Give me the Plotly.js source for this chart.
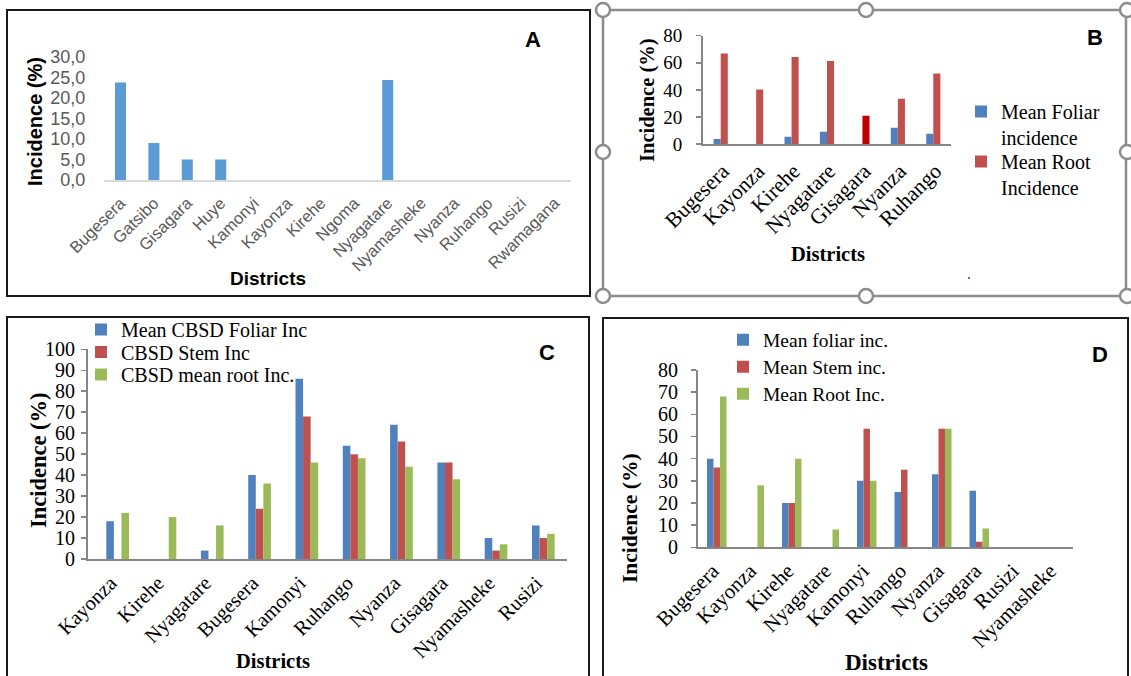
<!DOCTYPE html>
<html><head><meta charset="utf-8">
<script src="https://cdn.plot.ly/plotly-3.0.1.min.js"></script>
<style>html,body{margin:0;padding:0;background:#fff;} #chart{width:1131px;height:676px;}</style>
</head><body><div id="chart"></div>
<script>
// ---------- Panel A ----------
const districtsA = ['Bugesera','Gatsibo','Gisagara','Huye','Kamonyi','Kayonza','Kirehe','Ngoma','Nyagatare','Nyamasheke','Nyanza','Ruhango','Rusizi','Rwamagana'];
const incidenceA = [23.8, 9.0, 5.0, 5.0, 0, 0, 0, 0, 24.4, 0, 0, 0, 0, 0];
// ---------- Panel B ----------
const districtsB = ['Bugesera','Kayonza','Kirehe','Nyagatare','Gisagara','Nyanza','Ruhango'];
const foliarB = [3.7, 0, 5.4, 9.1, 0, 12.0, 7.6];
const rootB = [66.8, 40.3, 64.3, 61.4, 20.9, 33.4, 52.1];
const seriesB = ['Mean Foliar<br>incidence', 'Mean Root<br>Incidence'];
// ---------- Panel C ----------
const districtsC = ['Kayonza','Kirehe','Nyagatare','Bugesera','Kamonyi','Ruhango','Nyanza','Gisagara','Nyamasheke','Rusizi'];
const foliarC = [18, 0, 4, 40, 86, 54, 64, 46, 10, 16];
const stemC = [0, 0, 0, 24, 68, 50, 56, 46, 4, 10];
const rootC = [22, 20, 16, 36, 46, 48, 44, 38, 7, 12];
const seriesC = ['Mean CBSD Foliar Inc', 'CBSD Stem Inc', 'CBSD mean root Inc.'];
// ---------- Panel D ----------
const districtsD = ['Bugesera','Kayonza','Kirehe','Nyagatare','Kamonyi','Ruhango','Nyanza','Gisagara','Rusizi','Nyamasheke'];
const foliarD = [40, 0, 20, 0, 30, 25, 33, 25.5, 0, 0];
const stemD = [36, 0, 20, 0, 53.5, 35, 53.5, 2.5, 0, 0];
const rootD = [68, 28, 40, 8, 30, 0, 53.5, 8.5, 0, 0];
const seriesD = ['Mean foliar inc.', 'Mean Stem inc.', 'Mean Root Inc.'];

const W = 1131, H = 676;
const X = p => p / W, Y = p => 1 - p / H;
const SANS = 'Liberation Sans, Arial, sans-serif';
const SERIF = 'Liberation Serif, Times New Roman, serif';
const BLUE = '#4F81BD', RED = '#C0504D', GREEN = '#9BBB59', BLUEA = '#5B9BD5';
const AXC = '#868686';

const bColorsRoot = districtsB.map(d => d === 'Gisagara' ? '#C00000' : RED);

const traces = [
  {type:'bar', x:districtsA, y:incidenceA, xaxis:'x', yaxis:'y', marker:{color:BLUEA},
   width:0.33, offset:-0.165, showlegend:false},
  {type:'bar', x:districtsB, y:foliarB, xaxis:'x2', yaxis:'y2', name:seriesB[0], marker:{color:BLUE},
   width:0.2, offset:-0.2, legend:'legend'},
  {type:'bar', x:districtsB, y:rootB, xaxis:'x2', yaxis:'y2', name:seriesB[1], marker:{color:bColorsRoot},
   width:0.2, offset:0, legend:'legend6'},
  {type:'bar', x:districtsC, y:foliarC, xaxis:'x3', yaxis:'y3', name:seriesC[0], marker:{color:BLUE},
   width:0.16, offset:-0.24, legend:'legend2'},
  {type:'bar', x:districtsC, y:stemC, xaxis:'x3', yaxis:'y3', name:seriesC[1], marker:{color:RED},
   width:0.16, offset:-0.08, legend:'legend4'},
  {type:'bar', x:districtsC, y:rootC, xaxis:'x3', yaxis:'y3', name:seriesC[2], marker:{color:GREEN},
   width:0.16, offset:0.08, legend:'legend5'},
  {type:'bar', x:districtsD, y:foliarD, xaxis:'x4', yaxis:'y4', name:seriesD[0], marker:{color:BLUE},
   width:0.173, offset:-0.26, legend:'legend3'},
  {type:'bar', x:districtsD, y:stemD, xaxis:'x4', yaxis:'y4', name:seriesD[1], marker:{color:RED},
   width:0.173, offset:-0.087, legend:'legend7'},
  {type:'bar', x:districtsD, y:rootD, xaxis:'x4', yaxis:'y4', name:seriesD[2], marker:{color:GREEN},
   width:0.173, offset:0.087, legend:'legend8'}
];
// B legend: Gisagara's darker red shouldn't drive the legend swatch
traces[2].marker.color = bColorsRoot;

function xcat(domain, range, anchor, font, standoff, shift, lineColor) {
  return {domain:domain, range:range, anchor:anchor, type:'category', showgrid:false, zeroline:false,
    showline:true, linecolor:lineColor, linewidth:2, ticks:'', tickangle:-45, tickfont:font,
    ticklabelstandoff:standoff, ticklabelshift:shift, fixedrange:true, automargin:false};
}
function yval(domain, range, dtick, anchor, font, opts) {
  return Object.assign({domain:domain, range:range, dtick:dtick, anchor:anchor, showgrid:false, zeroline:false,
    showline:true, linecolor:AXC, linewidth:2, ticks:'outside', ticklen:5, tickwidth:1.5, tickcolor:AXC,
    tickfont:font, fixedrange:true, automargin:false}, opts || {});
}
function leg(xpx, ypx, size) {
  return {x:X(xpx), y:Y(ypx - size), xanchor:'left', yanchor:'top', bgcolor:'rgba(0,0,0,0)', valign:'top',
    font:{family:SERIF, size:size, color:'#000'}};
}

const layout = {
  width:W, height:H, margin:{l:0, r:0, t:0, b:0}, paper_bgcolor:'#fff', plot_bgcolor:'rgba(0,0,0,0)',
  separators:',.', barmode:'overlay', showlegend:true,
  xaxis: xcat([X(103.8), X(571.4)], [-0.5, 13.5], 'y', {family:SANS, size:16.5, color:'#595959'}, 5, 0, '#d9d9d9'),
  yaxis: yval([Y(180), Y(57)], [0, 30], 5, 'x', {family:SANS, size:18, color:'#595959'},
    {showline:false, tickcolor:'rgba(0,0,0,0)', ticklen:14, tickformat:'.1f'}),
  xaxis2: xcat([X(703), X(951)], [-0.5, 6.5], 'y2', {family:SERIF, size:21.5, color:'#000'}, 4, 2, AXC),
  yaxis2: yval([Y(144), Y(35.7)], [0, 80], 20, 'x2', {family:SERIF, size:19, color:'#000'}, {ticklabelstandoff:10}),
  xaxis3: xcat([X(88), X(567)], [-0.627, 9.5], 'y3', {family:SERIF, size:20.5, color:'#000'}, 2, -7, AXC),
  yaxis3: yval([Y(559), Y(349.3)], [0, 100], 10, 'x3', {family:SERIF, size:20, color:'#000'}, {ticklabelstandoff:2}),
  xaxis4: xcat([X(698), X(1073)], [-0.5, 9.5], 'y4', {family:SERIF, size:21, color:'#000'}, 1, -4, AXC),
  yaxis4: yval([Y(547.3), Y(370)], [0, 80], 10, 'x4', {family:SERIF, size:20, color:'#000'}, {ticklabelstandoff:9}),
  legend: leg(961, 112, 20),
  legend6: leg(961, 162, 20),
  legend2: leg(81, 330, 20),
  legend4: leg(81, 352.5, 20),
  legend5: leg(81, 375, 20),
  legend3: leg(723, 340, 19.5),
  legend7: leg(723, 367, 19.5),
  legend8: leg(723, 394, 19.5),
  shapes: [
    {type:'rect', xref:'paper', yref:'paper', x0:X(7), x1:X(590), y0:Y(296), y1:Y(10), line:{color:'#1a1a1a', width:2}},
    {type:'rect', xref:'paper', yref:'paper', x0:X(603), x1:X(1126), y0:Y(296), y1:Y(10), line:{color:'#8c8c8c', width:2.5}},
    {type:'path', xref:'paper', yref:'paper', path:`M ${X(7)} ${Y(676)} L ${X(7)} ${Y(317)} L ${X(589)} ${Y(317)} L ${X(589)} ${Y(676)}`, line:{color:'#1a1a1a', width:2}},
    {type:'path', xref:'paper', yref:'paper', path:`M ${X(603)} ${Y(676)} L ${X(603)} ${Y(318)} L ${X(1128)} ${Y(318)} L ${X(1128)} ${Y(676)}`, line:{color:'#1a1a1a', width:2}}
  ].concat([[603,10],[866,10],[1127,10],[603,152],[1127,152],[603,296],[866,296],[1127,296]].map(c => ({
    type:'circle', xref:'paper', yref:'paper', x0:X(c[0]-7), x1:X(c[0]+7), y0:Y(c[1]+7), y1:Y(c[1]-7),
    line:{color:'#8c8c8c', width:2.5}, fillcolor:'#fff'}))).concat([
    {type:'circle', xref:'paper', yref:'paper', x0:X(968), x1:X(970), y0:Y(279), y1:Y(277), line:{width:0}, fillcolor:'#3030ff'}
  ]),
  annotations: [
    {text:'<b>A</b>', x:X(533), y:Y(40), font:{family:SANS, size:22, color:'#000'}},
    {text:'<b>B</b>', x:X(1095), y:Y(38), font:{family:SANS, size:22, color:'#000'}},
    {text:'<b>C</b>', x:X(547), y:Y(353), font:{family:SANS, size:22, color:'#000'}},
    {text:'<b>D</b>', x:X(1100), y:Y(354), font:{family:SANS, size:22, color:'#000'}},
    {text:'<b>Incidence (%)</b>', x:X(35), y:Y(122), textangle:-90, font:{family:SANS, size:20, color:'#000'}},
    {text:'<b>Districts</b>', x:X(268), y:Y(278), font:{family:SANS, size:19, color:'#000'}},
    {text:'<b>Incidence (%)</b>', x:X(648), y:Y(100), textangle:-90, font:{family:SERIF, size:20.5, color:'#000'}},
    {text:'<b>Districts</b>', x:X(828), y:Y(254), font:{family:SERIF, size:20.5, color:'#000'}},
    {text:'<b>Incidence (%)</b>', x:X(38), y:Y(460), textangle:-90, font:{family:SERIF, size:22.5, color:'#000'}},
    {text:'<b>Districts</b>', x:X(273), y:Y(661), font:{family:SERIF, size:20.5, color:'#000'}},
    {text:'<b>Incidence (%)</b>', x:X(630), y:Y(518), textangle:-90, font:{family:SERIF, size:21.5, color:'#000'}},
    {text:'<b>Districts</b>', x:X(886), y:Y(662), font:{family:SERIF, size:23, color:'#000'}}
  ].map(a => Object.assign({xref:'paper', yref:'paper', showarrow:false, xanchor:'center', yanchor:'middle'}, a))
};

Plotly.newPlot('chart', traces, layout, {displayModeBar:false, staticPlot:true});
</script></body></html>
